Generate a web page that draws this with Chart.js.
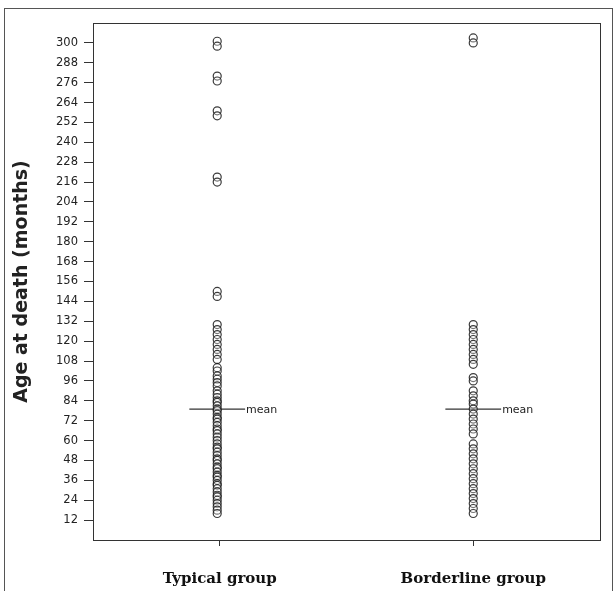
<!DOCTYPE html>
<html>
<head>
<meta charset="utf-8">
<script src="https://cdn.jsdelivr.net/npm/chart.js@4/dist/chart.umd.min.js"></script>
<style>
  html, body { margin: 0; padding: 0; background: #fff; }
  #wrap { position: relative; width: 614px; height: 591px; overflow: hidden; }
  #frame { position: absolute; left: 4px; top: 8px; width: 607px; height: 600px; border: 1px solid #555; }
  #chart { position: absolute; left: 0; top: 0; }
</style>
</head>
<body>
<div id="wrap">
  <div id="frame"></div>
  <canvas id="chart" width="614" height="591"></canvas>
</div>
<script>
const groups = ['Typical group', 'Borderline group'];

// age at death in months
const typicalAges = [
  301, 298, 280, 277, 259, 256, 219, 216,
  150, 147,
  130, 127, 124, 121, 118, 115, 112, 109,
  104, 102, 99, 97, 95, 93, 90, 88, 86, 84, 83, 81, 79, 78, 76, 74, 73, 71, 69, 67,
  66, 64, 62, 60, 58, 56, 55, 53, 51, 49, 48, 46, 44, 43, 41, 39, 38, 36, 34, 33,
  31, 29, 27, 26, 24, 22, 20, 18, 16
];
const borderlineAges = [
  303, 300,
  130, 127, 124, 121, 118, 115, 112, 109, 106,
  98, 96,
  90, 87, 84, 82, 79, 76, 73, 70, 67, 64,
  58, 55, 52, 49, 46, 43, 40, 37, 34, 31, 28, 25, 22, 19, 16
];
const meanAges = [79, 79];
const yTickValues = [12, 24, 36, 48, 60, 72, 84, 96, 108, 120, 132, 144, 156, 168, 180,
  192, 204, 216, 228, 240, 252, 264, 276, 288, 300];

const groupX = [0.49, 1.5];
const meanHalf = 0.11;

const pointStyle = {
  pointRadius: 4,
  pointBorderWidth: 1.2,
  pointBorderColor: 'rgba(25,25,25,0.85)',
  pointBackgroundColor: 'rgba(255,255,255,0.3)',
  showLine: false
};

function meanLine(i) {
  return {
    type: 'line',
    data: [{ x: groupX[i] - meanHalf, y: meanAges[i] }, { x: groupX[i] + meanHalf, y: meanAges[i] }],
    borderColor: '#333',
    borderWidth: 1.2,
    pointRadius: 0,
    fill: false
  };
}

const framePlugin = {
  id: 'frameAndMean',
  afterDraw(chart) {
    const { ctx, chartArea: a, scales } = chart;
    ctx.save();
    ctx.strokeStyle = '#333';
    ctx.lineWidth = 1;
    ctx.strokeRect(a.left + 0.5, a.top + 0.5, a.right - a.left, a.bottom - a.top);
    ctx.fillStyle = '#222';
    ctx.font = '11px "DejaVu Sans"';
    ctx.textAlign = 'left';
    ctx.textBaseline = 'middle';
    meanAges.forEach((m, i) => {
      const x = scales.x.getPixelForValue(groupX[i] + meanHalf);
      const y = scales.y.getPixelForValue(m);
      ctx.fillText('mean', x + 1, y + 1);
    });
    ctx.restore();
  }
};

new Chart(document.getElementById('chart').getContext('2d'), {
  type: 'scatter',
  data: {
    datasets: [
      Object.assign({ data: typicalAges.map(v => ({ x: groupX[0], y: v })) }, pointStyle),
      Object.assign({ data: borderlineAges.map(v => ({ x: groupX[1], y: v })) }, pointStyle),
      meanLine(0),
      meanLine(1)
    ]
  },
  options: {
    responsive: false,
    animation: false,
    layout: { padding: { left: 0, top: 23, right: 14, bottom: 0 } },
    plugins: { legend: { display: false }, tooltip: { enabled: false } },
    scales: {
      x: {
        type: 'linear',
        min: 0,
        max: 2,
        afterBuildTicks: s => { s.ticks = [{ value: 0.5 }, { value: 1.5 }]; },
        afterFit: s => { s.height = 51; },
        grid: { drawOnChartArea: false, drawTicks: true, tickLength: 6, color: '#333' },
        border: { display: true, color: '#333' },
        ticks: {
          padding: 24,
          color: '#111',
          font: { family: 'DejaVu Serif', size: 15, weight: 'bold' },
          callback: v => groups[Math.floor(v)]
        }
      },
      y: {
        min: 0,
        max: 312,
        afterBuildTicks: s => { s.ticks = yTickValues.map(v => ({ value: v })); },
        afterFit: s => { s.width = 93; },
        grid: { drawOnChartArea: false, drawTicks: true, tickLength: 9, color: '#333' },
        border: { display: true, color: '#333' },
        ticks: {
          padding: 6,
          color: '#222',
          font: { family: 'DejaVu Sans', size: 11.5 }
        },
        title: {
          display: true,
          text: 'Age at death (months)',
          color: '#222',
          font: { family: 'DejaVu Sans', size: 19, weight: 'bold' },
          padding: { top: 11, bottom: 0 }
        }
      }
    }
  },
  plugins: [framePlugin]
});
</script>
</body>
</html>
